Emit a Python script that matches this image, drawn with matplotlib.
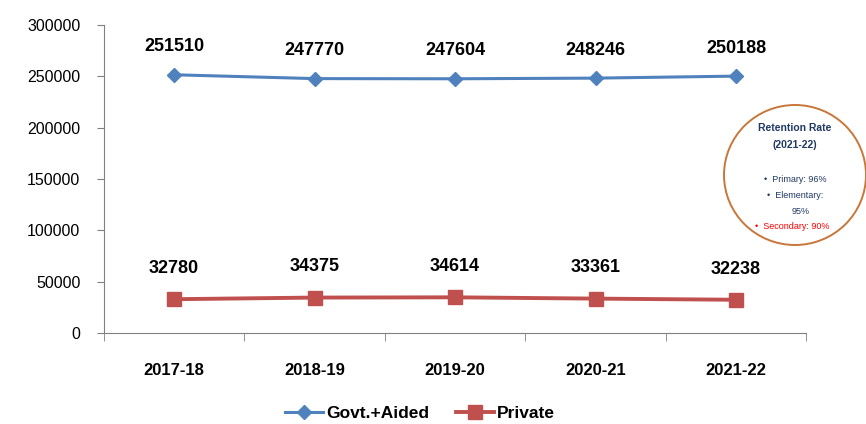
import matplotlib
matplotlib.use("Agg")
import matplotlib.pyplot as plt
from matplotlib.patches import Ellipse

years = ["2017-18", "2018-19", "2019-20", "2020-21", "2021-22"]
govt_aided = [251510, 247770, 247604, 248246, 250188]
private = [32780, 34375, 34614, 33361, 32238]
yticks = [0, 50000, 100000, 150000, 200000, 250000, 300000]

blue = "#4F81BD"
red = "#C0504D"
plt.rcParams['font.family'] = ['Liberation Sans', 'DejaVu Sans']

fig = plt.figure(figsize=(8.66, 4.24), dpi=100)
ax = fig.add_axes([0.12, 0.215, 0.811, 0.726])
x = list(range(len(years)))
ax.plot(x, govt_aided, color=blue, lw=2.2, marker="D", ms=7.5, label="Govt.+Aided")
ax.plot(x, private, color=red, lw=2.8, marker="s", ms=10, label="Private")
for xi, v in zip(x, govt_aided):
    ax.annotate(str(v), (xi, v), xytext=(0, 14), textcoords="offset points",
                ha="center", va="bottom", fontsize=13, fontweight="bold")
for xi, v in zip(x, private):
    ax.annotate(str(v), (xi, v), xytext=(0, 16), textcoords="offset points",
                ha="center", va="bottom", fontsize=13, fontweight="bold")

ax.set_xlim(-0.5, 4.5)
ax.set_ylim(0, 300000)
ax.set_yticks(yticks)
ax.set_yticklabels([str(t) for t in yticks], fontsize=11.5)
ax.set_xticks(x)
ax.set_xticklabels(years, fontsize=12, fontweight="bold")
ax.set_xticks([-0.5, 0.5, 1.5, 2.5, 3.5, 4.5], minor=True)
ax.tick_params(axis="x", which="major", length=0, pad=22)
ax.tick_params(axis="x", which="minor", length=6, color="#808080")
ax.tick_params(axis="y", length=5, color="#808080", pad=12)
for s in ["top", "right"]:
    ax.spines[s].set_visible(False)
ax.spines["left"].set_color("#808080")
ax.spines["bottom"].set_color("#808080")

leg = fig.legend(loc="lower center", bbox_to_anchor=(0.485, -0.03), ncol=2, frameon=False,
                 prop={"size": 12.5, "weight": "bold"}, handlelength=2.2, columnspacing=1.5,
                 handletextpad=0.2)

# Retention rate circle
ell = Ellipse((795 / 866, 1 - 175 / 424), 142 / 866, 140 / 424, transform=fig.transFigure,
              fill=False, edgecolor="#C8763A", lw=1.4, clip_on=False)
fig.add_artist(ell)
cx = 795 / 866
fig.text(cx, 1 - 128 / 424, "Retention Rate", ha="center", va="center", fontsize=7.5,
         fontweight="bold", color="#1F3864")
fig.text(cx, 1 - 145 / 424, "(2021-22)", ha="center", va="center", fontsize=7.5,
         fontweight="bold", color="#1F3864")
fig.text(cx, 1 - 180 / 424, "•  Primary: 96%", ha="center", va="center", fontsize=6.5, color="#1F3864")
fig.text(cx, 1 - 196 / 424, "•  Elementary:", ha="center", va="center", fontsize=6.5, color="#1F3864")
fig.text(cx + 0.007, 1 - 211 / 424, "95%", ha="center", va="center", fontsize=6.5, color="#1F3864")
fig.text(cx - 0.003, 1 - 227 / 424, "•  Secondary: 90%", ha="center", va="center", fontsize=6.5, color="#FF0000")

fig.savefig("out.png", dpi=100)
